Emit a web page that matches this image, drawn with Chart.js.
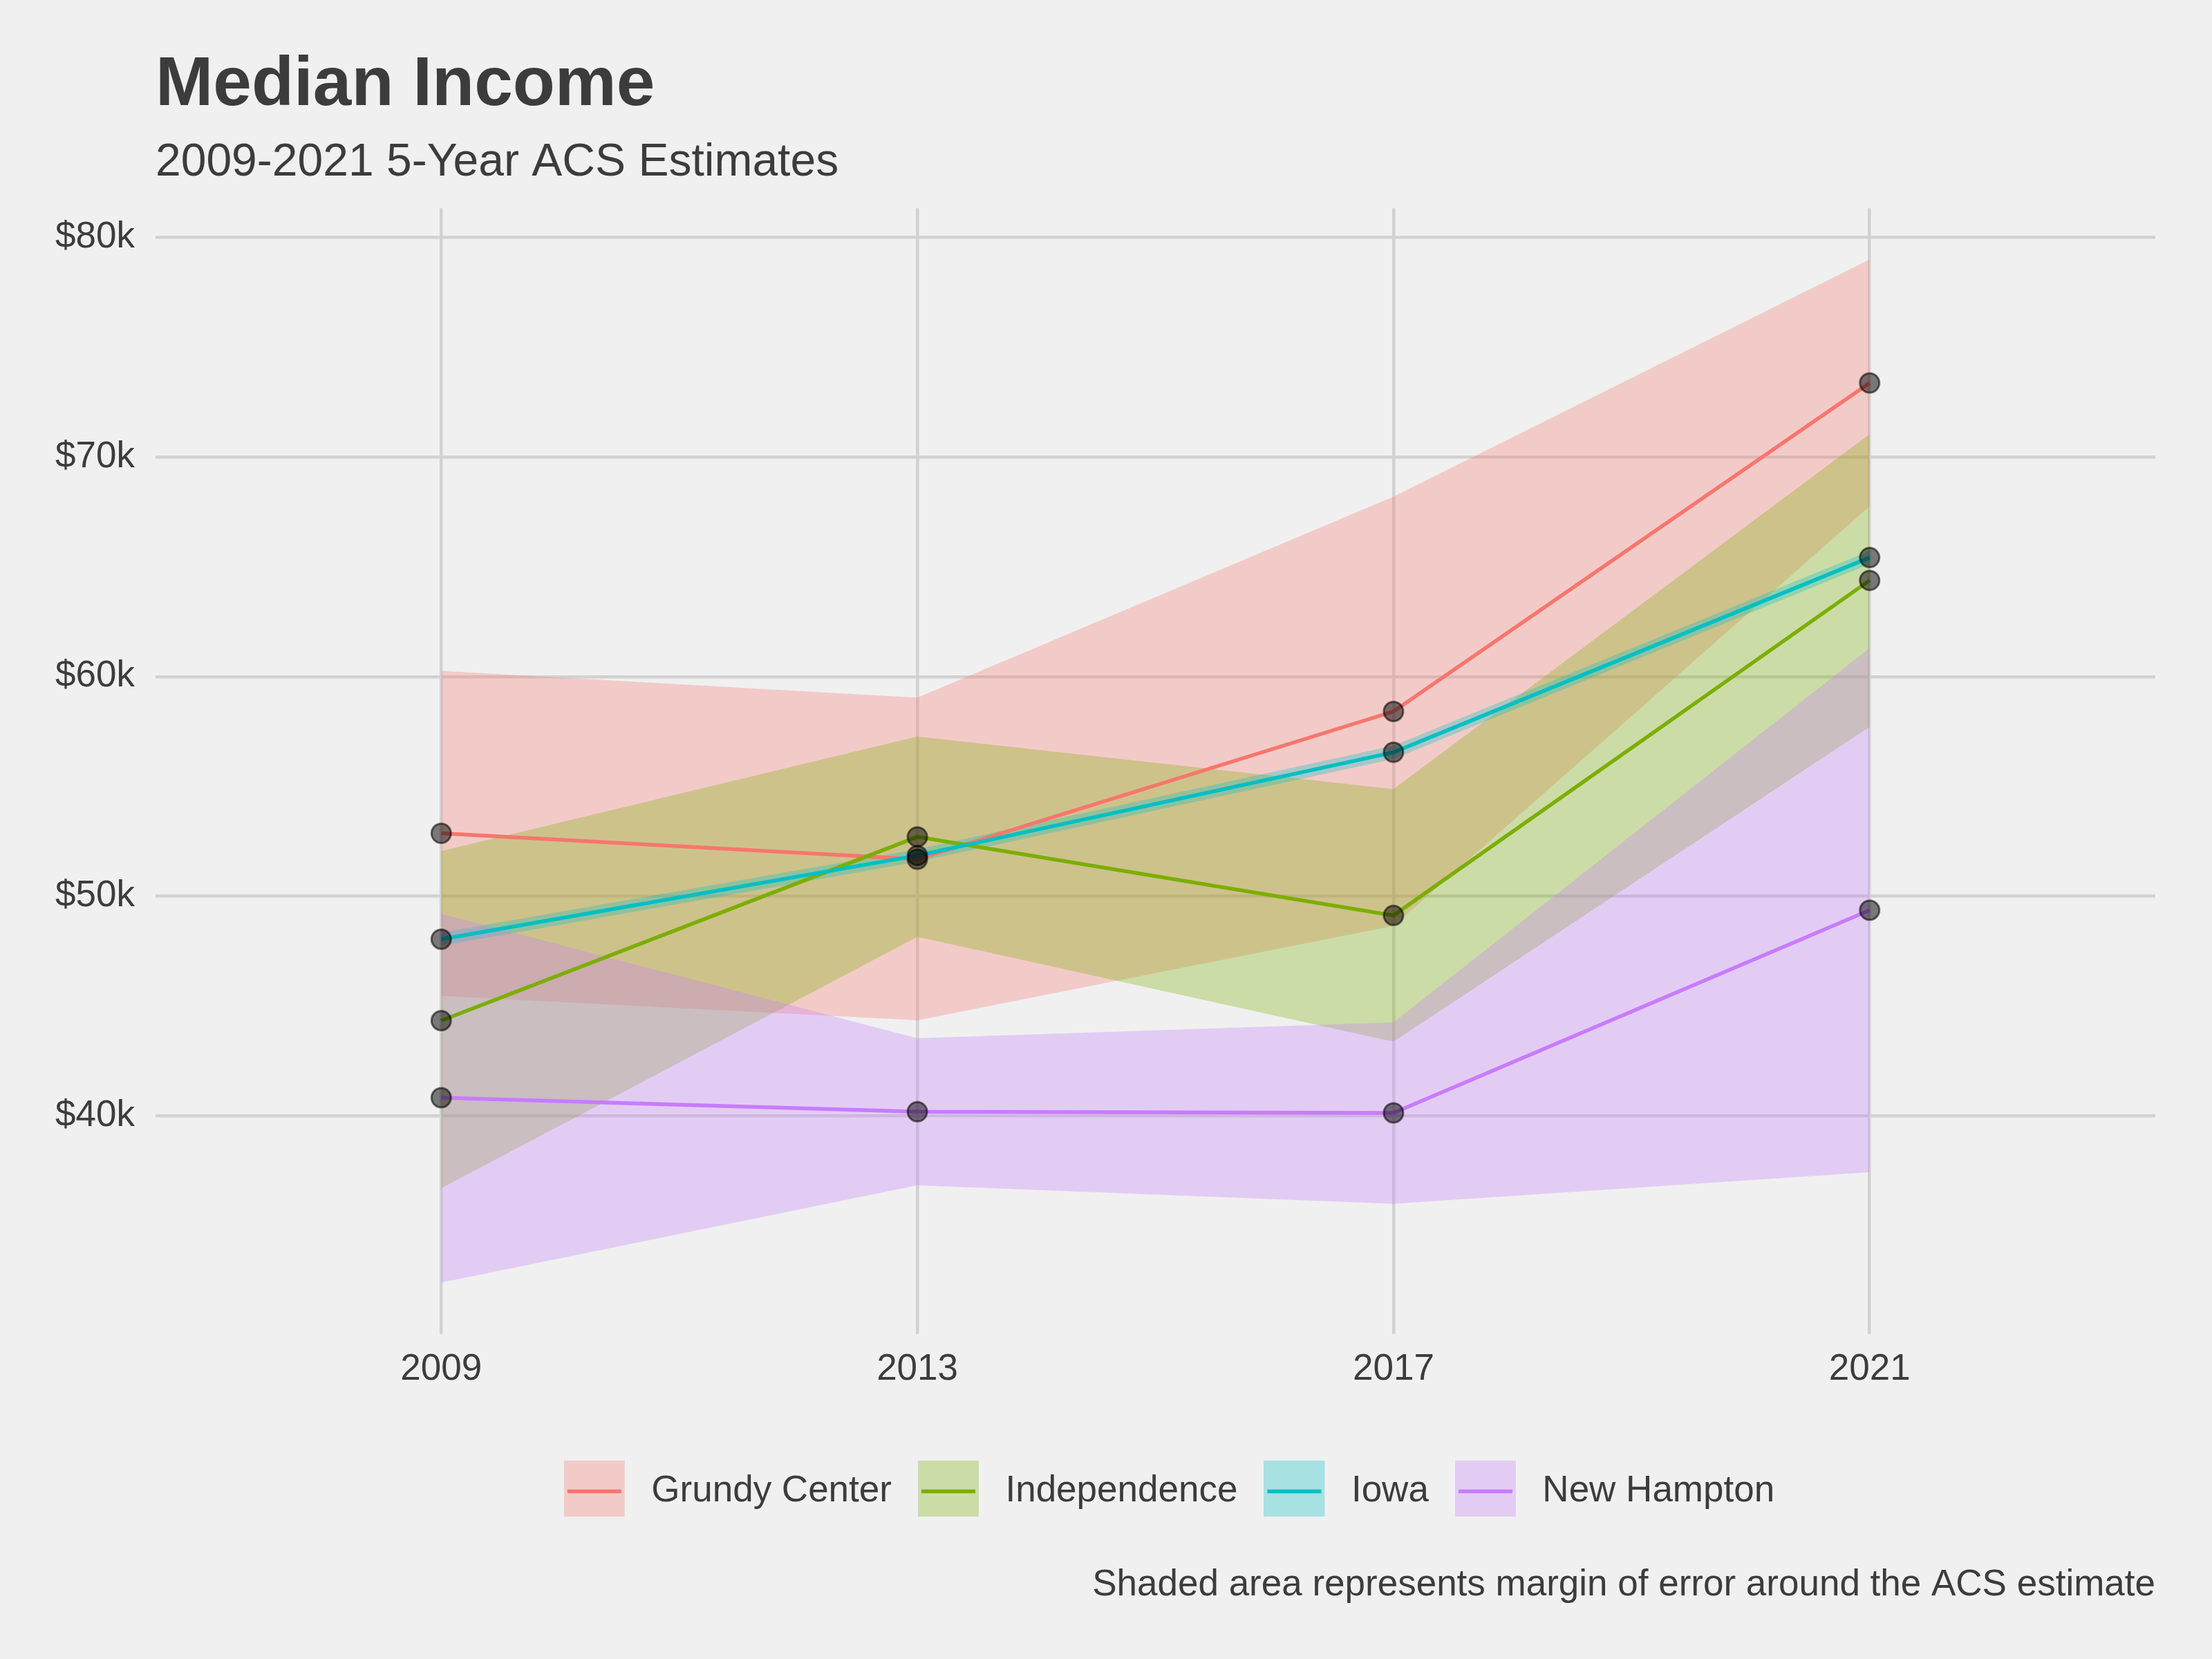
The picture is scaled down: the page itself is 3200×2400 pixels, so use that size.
<!DOCTYPE html>
<html>
<head>
<meta charset="utf-8">
<title>Median Income</title>
<script src="https://cdn.jsdelivr.net/npm/chart.js@4.4.1/dist/chart.umd.min.js"></script>
<style>
  html, body { margin: 0; padding: 0; background: #F0F0F0; }
  canvas { display: block; }
</style>
</head>
<body>
<canvas id="incomeChart" width="3200" height="2400" style="width:3200px;height:2400px"></canvas>
<script>
// values (dollars)
const years = [2009, 2013, 2017, 2021];
const places = ['Grundy Center', 'Independence', 'Iowa', 'New Hampton'];

const grundyEst = [52860, 51680, 58410, 73370];
const grundyLow = [45460, 44350, 48640, 67750];
const grundyHigh = [60260, 59040, 68190, 79000];

const indepEst = [44330, 52700, 49120, 64380];
const indepLow = [36700, 48150, 43370, 57710];
const indepHigh = [52050, 57270, 54880, 71040];

const iowaEst = [48040, 51850, 56550, 65420];
const iowaLow = [47740, 51560, 56250, 65120];
const iowaHigh = [48340, 52140, 56850, 65720];

const nhEst = [40820, 40180, 40130, 49360];
const nhLow = [32400, 36830, 35990, 37430];
const nhHigh = [49200, 43530, 44250, 61300];

const yTicks = [40000, 50000, 60000, 70000, 80000];
const caption = 'Shaded area represents margin of error around the ACS estimate';

const lineColors = ['#F8766D', '#7CAE00', '#00BFC4', '#C77CFF'];
const ribbonColors = ['rgba(248,118,109,0.3)', 'rgba(124,174,0,0.3)', 'rgba(0,191,196,0.3)', 'rgba(199,124,255,0.3)'];
const textColor = '#3C3C3C';
const fontFamily = '"Liberation Sans", Arial, Helvetica, sans-serif';

const series = [
    { est: grundyEst, low: grundyLow, high: grundyHigh },
    { est: indepEst, low: indepLow, high: indepHigh },
    { est: iowaEst, low: iowaLow, high: iowaHigh },
    { est: nhEst, low: nhLow, high: nhHigh },
];

function toPoints(values) {
    return years.map((yr, i) => ({ x: yr, y: values[i] }));
}

// legend key: shaded square with the line through it (like ggplot's smooth key)
function legendKey(i) {
    const c = document.createElement('canvas');
    c.width = 100;
    c.height = 89;
    const g = c.getContext('2d');
    g.fillStyle = ribbonColors[i];
    g.fillRect(0, 0, 88, 89);
    g.strokeStyle = lineColors[i];
    g.lineWidth = 5.5;
    g.beginPath();
    g.moveTo(5, 44.5);
    g.lineTo(83, 44.5);
    g.stroke();
    return c;
}

const datasets = [];
const lineIndex = [];

// ribbons first in draw order (Grundy at the bottom, New Hampton on top)
series.forEach((s, i) => {
    datasets.push({
        label: places[i] + ' upper',
        data: toPoints(s.high),
        fill: '+1',
        backgroundColor: ribbonColors[i],
        borderWidth: 0,
        pointRadius: 0,
        order: 13 - i,
    });
    datasets.push({
        label: places[i] + ' lower',
        data: toPoints(s.low),
        fill: false,
        borderWidth: 0,
        pointRadius: 0,
        order: 13 - i,
    });
});

series.forEach((s, i) => {
    lineIndex.push(datasets.length);
    datasets.push({
        label: places[i],
        data: toPoints(s.est),
        fill: false,
        borderColor: lineColors[i],
        borderWidth: 5.5,
        tension: 0,
        pointRadius: 0,
        order: 8 - i,
    });
});

series.forEach((s, i) => {
    datasets.push({
        label: places[i] + ' points',
        data: toPoints(s.est),
        showLine: false,
        fill: false,
        pointRadius: 14,
        pointBackgroundColor: 'rgba(0,0,0,0.5)',
        pointBorderColor: 'rgba(0,0,0,0.55)',
        pointBorderWidth: 3,
        order: 3 - i,
    });
});

const keys = places.map((p, i) => legendKey(i));

const backgroundPlugin = {
    id: 'background',
    beforeDraw(chart) {
        const ctx = chart.ctx;
        ctx.save();
        ctx.fillStyle = '#F0F0F0';
        ctx.fillRect(0, 0, chart.width, chart.height);
        ctx.restore();
    }
};

// ggplot centres the legend a little right of the panel centre
const legendShift = {
    id: 'legendShift',
    afterLayout(chart) {
        chart.legend.left += 20;
        chart.legend.right += 20;
    }
};

const captionPlugin = {
    id: 'caption',
    afterDraw(chart) {
        const ctx = chart.ctx;
        ctx.save();
        ctx.font = '53px ' + fontFamily;
        ctx.fillStyle = textColor;
        ctx.textAlign = 'right';
        ctx.textBaseline = 'alphabetic';
        ctx.fillText(caption, chart.chartArea.right, chart.legend.bottom + 114);
        ctx.restore();
    }
};

const ctx = document.getElementById('incomeChart').getContext('2d');
new Chart(ctx, {
    type: 'line',
    data: { datasets },
    plugins: [backgroundPlugin, legendShift, captionPlugin],
    options: {
        responsive: false,
        devicePixelRatio: 1,
        animation: false,
        events: [],
        layout: { padding: { top: 64, left: 0, right: 82, bottom: 206 } },
        plugins: {
            title: {
                display: true,
                text: 'Median Income',
                align: 'start',
                fullSize: false,
                color: textColor,
                font: { family: fontFamily, size: 100, weight: 'bold', lineHeight: 1.2 },
                padding: { top: 0, bottom: 12 }
            },
            subtitle: {
                display: true,
                text: '2009-2021 5-Year ACS Estimates',
                align: 'start',
                fullSize: false,
                color: textColor,
                font: { family: fontFamily, size: 66, lineHeight: 1.2 },
                padding: { top: 0, bottom: 26 }
            },
            legend: {
                position: 'bottom',
                fullSize: false,
                labels: {
                    usePointStyle: true,
                    pointStyleWidth: 100,
                    padding: 38,
                    color: textColor,
                    font: { family: fontFamily, size: 53 },
                    generateLabels: () => places.map((name, i) => ({
                        text: name,
                        pointStyle: keys[i],
                        fontColor: textColor,
                        datasetIndex: lineIndex[i],
                        hidden: false,
                        lineWidth: 0,
                        strokeStyle: 'transparent',
                        fillStyle: 'transparent'
                    }))
                }
            },
            tooltip: { enabled: false }
        },
        scales: {
            x: {
                type: 'linear',
                min: 2006.6,
                max: 2023.4,
                afterBuildTicks: scale => { scale.ticks = years.map(v => ({ value: v })); },
                afterFit: scale => { scale.height = 163.5; },
                grid: { color: '#D2D2D2', lineWidth: 4.5, drawTicks: false },
                border: { display: false },
                ticks: {
                    autoSkip: false,
                    padding: 20,
                    color: textColor,
                    font: { family: fontFamily, size: 53 },
                    callback: v => String(v)
                }
            },
            y: {
                min: 30070,
                max: 81330,
                afterBuildTicks: scale => { scale.ticks = yTicks.map(v => ({ value: v })); },
                afterFit: scale => { scale.width = 225; },
                grid: { color: '#D2D2D2', lineWidth: 4.5, drawTicks: false },
                border: { display: false },
                ticks: {
                    padding: 30,
                    color: textColor,
                    font: { family: fontFamily, size: 53 },
                    callback: v => '$' + (v / 1000) + 'k'
                }
            }
        }
    }
});
</script>
</body>
</html>
